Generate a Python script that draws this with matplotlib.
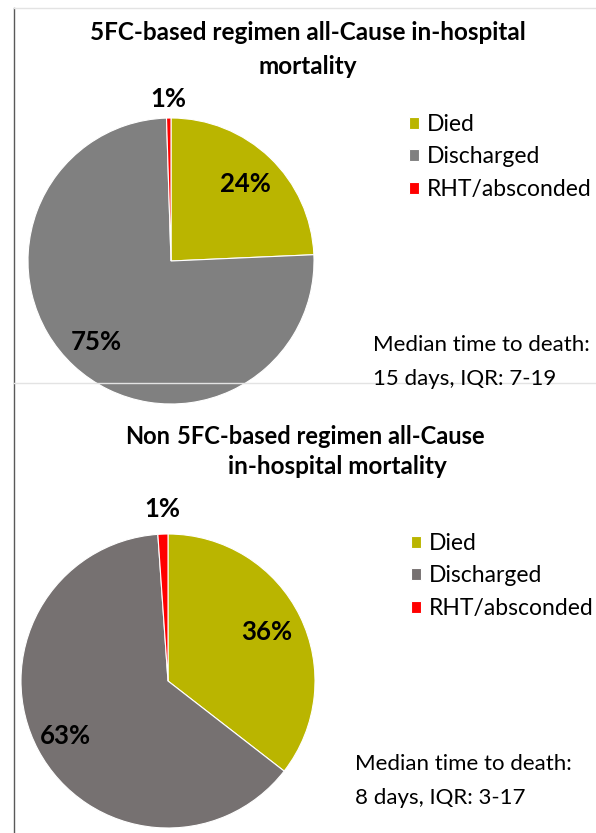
import numpy as np
import matplotlib
matplotlib.use("Agg")
import matplotlib.pyplot as plt
from matplotlib.lines import Line2D

plt.rcParams['font.family'] = ['Lato', 'DejaVu Sans']

W, H = 596, 833

categories = ["Died", "Discharged", "RHT/absconded"]

# top pie: 5FC-based regimen
values_5fc = [24.3, 75.2, 0.5]
labels_5fc = ["24%", "75%", "1%"]
# bottom pie: non 5FC-based regimen
values_non = [35.5, 63.4, 1.1]
labels_non = ["36%", "63%", "1%"]

colors_5fc = ["#BAB500", "#808080", "#FF0000"]
colors_non = ["#BAB500", "#767171", "#FF0000"]

median_5fc = "Median time to death:\n15 days, IQR: 7-19"
median_non = "Median time to death:\n8 days, IQR: 3-17"


def px(x, y):
    return x / W, 1 - y / H


def pie_panel(fig, cx, cy, r, values, labels, colors, label_dist):
    ax = fig.add_axes([(cx - r) / W, 1 - (cy + r) / H, 2 * r / W, 2 * r / H])
    wedges, _ = ax.pie(values, colors=colors, startangle=90, counterclock=False,
                       radius=1, wedgeprops=dict(edgecolor="white", linewidth=0.8))
    ax.set_xlim(-1, 1)
    ax.set_ylim(-1, 1)
    ax.set_aspect("equal")
    ax.axis("off")
    for w, lab, d in zip(wedges, labels, label_dist):
        theta = np.radians((w.theta1 + w.theta2) / 2)
        ax.text(d * np.cos(theta), d * np.sin(theta), lab, ha="center", va="center",
                fontsize=18.5, fontweight="bold", color="black", clip_on=False)
    return ax, wedges


def add_legend(fig, wedges, x, y):
    fig.legend(wedges, categories, loc="upper left", bbox_to_anchor=px(x, y), frameon=False,
               fontsize=16.5, handlelength=0.45, handleheight=0.45, handletextpad=0.35,
               labelspacing=0.5, borderaxespad=0, borderpad=0)


fig = plt.figure(figsize=(W / 100, H / 100), dpi=100)

# panel frames
fig.add_artist(Line2D([14 / W, 14 / W], [0, 1 - 8 / H], color="#595959", lw=1))
fig.add_artist(Line2D([14 / W, 1], [1 - 8 / H, 1 - 8 / H], color="#E3E3E3", lw=1))
fig.add_artist(Line2D([14 / W, 1], [1 - 383 / H, 1 - 383 / H], color="#E3E3E3", lw=1))

# top panel
ax1, w1 = pie_panel(fig, 171, 261, 143, values_5fc, labels_5fc, colors_5fc, [0.75, 0.77, 1.13])
fig.text(*px(308, 32), "5FC-based regimen all-Cause in-hospital", ha="center", va="center",
         fontsize=17.5, fontweight="bold")
fig.text(*px(308, 66), "mortality", ha="center", va="center", fontsize=17.5, fontweight="bold")
add_legend(fig, w1, 409, 114)
fig.text(*px(373, 362), median_5fc, ha="left", va="center", fontsize=16, linespacing=1.9)

# bottom panel
ax2, w2 = pie_panel(fig, 168, 681, 147, values_non, labels_non, colors_non, [0.75, 0.79, 1.17])
fig.text(*px(125, 437), "Non", ha="left", va="center", fontsize=17, fontweight="bold")
fig.text(*px(177, 437), "5FC-based regimen all-Cause", ha="left", va="center",
         fontsize=17, fontweight="bold")
fig.text(*px(337, 466), "in-hospital mortality", ha="center", va="center",
         fontsize=17.5, fontweight="bold")
add_legend(fig, w2, 411, 533)
fig.text(*px(355, 781), median_non, ha="left", va="center", fontsize=16, linespacing=1.9)

fig.savefig("out.png", dpi=100)
